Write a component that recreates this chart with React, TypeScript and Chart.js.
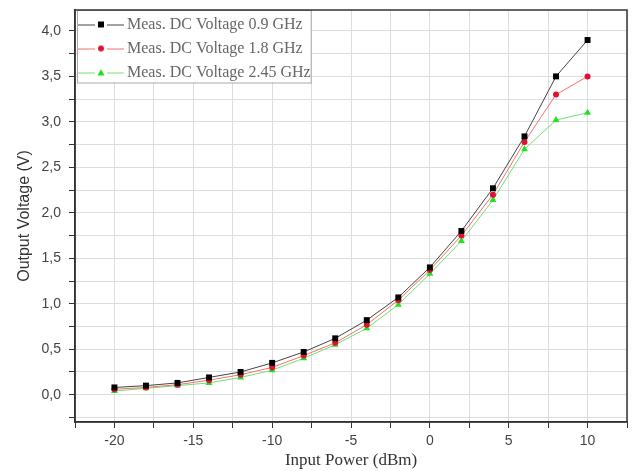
import React, { useEffect, useRef } from 'react';
import { Chart, registerables } from 'chart.js';
Chart.register(...registerables);

const inputPower = [-20, -18, -16, -14, -12, -10, -8, -6, -4, -2, 0, 2, 4, 6, 8, 10];
const v09 = [0.08, 0.10, 0.13, 0.19, 0.25, 0.35, 0.47, 0.62, 0.82, 1.07, 1.40, 1.80, 2.27, 2.84, 3.50, 3.90];
const v18 = [0.06, 0.08, 0.11, 0.16, 0.22, 0.30, 0.43, 0.57, 0.77, 1.04, 1.37, 1.75, 2.20, 2.78, 3.30, 3.50];
const v245 = [0.04, 0.07, 0.10, 0.13, 0.19, 0.27, 0.40, 0.55, 0.73, 0.99, 1.33, 1.69, 2.14, 2.70, 3.02, 3.10];
const seriesLabels = ['Meas. DC Voltage 0.9 GHz', 'Meas. DC Voltage 1.8 GHz', 'Meas. DC Voltage 2.45 GHz'];
const xTitle = 'Input Power (dBm)';
const yTitle = 'Output Voltage (V)';

const lineColors = ['#444444', '#f07070', '#70e070'];
const markerColors = ['#000000', '#e01030', '#20e020'];
const markerStyles = ['rect', 'circle', 'triangle'];

function legendIcon(i: number): HTMLCanvasElement {
  const c = document.createElement('canvas');
  c.width = 46;
  c.height = 12;
  const g = c.getContext('2d')!;
  g.strokeStyle = lineColors[i];
  g.lineWidth = 1;
  g.beginPath();
  g.moveTo(0, 6.5);
  g.lineTo(17, 6.5);
  g.moveTo(29, 6.5);
  g.lineTo(46, 6.5);
  g.stroke();
  g.fillStyle = markerColors[i];
  if (markerStyles[i] === 'rect') {
    g.fillRect(20, 3, 6, 6);
  } else if (markerStyles[i] === 'circle') {
    g.beginPath();
    g.arc(23, 6, 3, 0, Math.PI * 2);
    g.fill();
  } else {
    g.beginPath();
    g.moveTo(23, 2.5);
    g.lineTo(26.5, 9);
    g.lineTo(19.5, 9);
    g.closePath();
    g.fill();
  }
  return c;
}

export default function App() {
  const ref = useRef<HTMLCanvasElement>(null);
  useEffect(() => {
    document.body.style.margin = '0';
    const series = [v09, v18, v245];
    const datasets = series.map((s, i) => ({
      label: seriesLabels[i],
      data: inputPower.map((x, k) => ({ x, y: s[k] })),
      borderColor: lineColors[i],
      backgroundColor: markerColors[i],
      pointBackgroundColor: markerColors[i],
      pointBorderColor: markerColors[i],
      pointBorderWidth: 0,
      borderWidth: 1,
      pointStyle: markerStyles[i] as any,
      pointRadius: i === 0 ? 4.2 : i === 1 ? 3 : 4,
      tension: 0,
      fill: false,
    }));
    const icons = [0, 1, 2].map(legendIcon);

    const frame = {
      id: 'frame',
      afterDatasetsDraw(chart: any) {
        const ctx = chart.ctx;
        const ca = chart.chartArea;
        const lg = chart.legend;
        const hb = lg.legendHitBoxes;
        if (hb && hb.length) {
          const left = ca.left + 2;
          const top = ca.top;
          const right = Math.max(...hb.map((h: any) => h.left + h.width));
          const last = hb[hb.length - 1];
          const bottom = last.top + last.height + 2;
          ctx.save();
          ctx.fillStyle = '#ffffff';
          ctx.fillRect(left, top, right - left, bottom - top);
          ctx.strokeStyle = '#aaaaaa';
          ctx.lineWidth = 1;
          ctx.strokeRect(left + 0.5, top + 0.5, right - left, bottom - top);
          ctx.restore();
          lg.draw(ca);
        }
        ctx.save();
        ctx.strokeStyle = '#333333';
        ctx.lineWidth = 1.5;
        ctx.strokeRect(ca.left, ca.top, ca.right - ca.left, ca.bottom - ca.top);
        ctx.restore();
      },
    };

    const chart = new Chart(ref.current!, {
      type: 'line',
      data: { datasets: datasets as any },
      options: {
        animation: false,
        responsive: false,
        layout: { padding: { left: 10, top: 10, right: 8, bottom: 0 } },
        plugins: {
          tooltip: { enabled: false },
          legend: {
            position: 'chartArea' as any,
            align: 'start',
            title: {
              display: true,
              text: ' ',
              font: { size: 5, lineHeight: 1.7 },
              padding: 0,
            },
            labels: {
              usePointStyle: true,
              pointStyleWidth: 36,
              padding: 8,
              color: '#333333',
              font: { family: 'Liberation Serif', size: 16 },
              generateLabels: () =>
                seriesLabels.map((t, i) => ({
                  text: t,
                  pointStyle: icons[i] as any,
                  fillStyle: markerColors[i],
                  strokeStyle: markerColors[i],
                  lineWidth: 0,
                  hidden: false,
                  datasetIndex: i,
                })),
            },
          },
        },
        scales: {
          x: {
            type: 'linear',
            min: -22.5,
            max: 12.5,
            afterFit: (s: any) => {
              s.height = 49;
              s.paddingLeft = 0;
              s.paddingRight = 0;
            },
            ticks: {
              stepSize: 2.5,
              autoSkip: false,
              maxRotation: 0,
              padding: 5,
              color: '#444444',
              font: { family: 'Liberation Sans', size: 14 },
              callback: (v: any) => (Math.abs(v / 5 - Math.round(v / 5)) < 1e-6 ? String(v) : ''),
            },
            grid: { color: '#dddddd', tickColor: '#333333', tickLength: 6 },
            border: { color: '#333333', width: 1.5 },
            title: {
              display: true,
              text: xTitle,
              color: '#333333',
              font: { family: 'Liberation Serif', size: 17 },
              padding: { top: 0, bottom: 0 },
            },
          },
          y: {
            type: 'linear',
            min: -0.3,
            max: 4.23,
            afterFit: (s: any) => {
              s.width = 65;
              s.paddingTop = 0;
              s.paddingBottom = 0;
            },
            ticks: {
              stepSize: 0.25,
              includeBounds: false,
              autoSkip: false,
              padding: 8,
              color: '#444444',
              font: { family: 'Liberation Sans', size: 14 },
              callback: (v: any) =>
                Math.abs(v * 2 - Math.round(v * 2)) < 1e-6 ? Number(v).toFixed(1).replace('.', ',') : '',
            },
            grid: { color: '#dddddd', tickColor: '#333333', tickLength: 6 },
            border: { color: '#333333', width: 1.5 },
            title: {
              display: true,
              text: yTitle,
              color: '#333333',
              font: { family: 'Liberation Sans', size: 16 },
              padding: { top: 5, bottom: 0 },
            },
          },
        },
      },
      plugins: [frame],
    });
    return () => chart.destroy();
  }, []);
  return (
    <div style={{ position: 'absolute', left: 0, top: 0, width: 635, height: 471, background: '#fff' }}>
      <canvas ref={ref} width={635} height={471} />
    </div>
  );
}
